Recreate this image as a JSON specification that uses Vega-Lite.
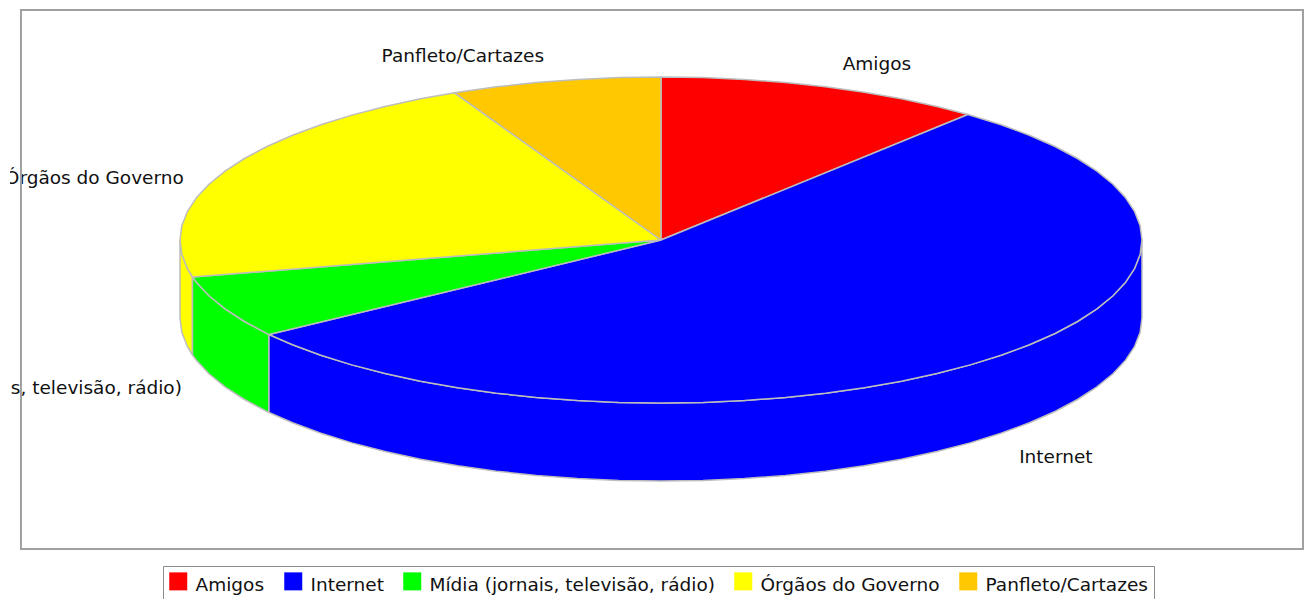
{
"$schema":"https://vega.github.io/schema/vega-lite/v6.json",
"width":1300,"height":555,"autosize":"none",
"padding":{"left":10,"top":0,"right":0,"bottom":44},
"background":"white",
"view":{"stroke":null},
"config":{"font":"DejaVu Sans"},
"datasets":{
"paredes":[
{"s":"Órgãos do Governo","i":0,"u":-1,"v":0},{"s":"Órgãos do Governo","i":1,"u":-0.9962,"v":-0.0872},{"s":"Órgãos do Governo","i":2,"u":-0.9848,"v":-0.1736},{"s":"Órgãos do Governo","i":3,"u":-0.974,"v":-0.227},{"s":"Órgãos do Governo","i":4,"u":-0.974,"v":-0.7055},{"s":"Órgãos do Governo","i":5,"u":-0.9848,"v":-0.6521},{"s":"Órgãos do Governo","i":6,"u":-0.9962,"v":-0.5657},{"s":"Órgãos do Governo","i":7,"u":-1,"v":-0.4785},{"s":"Órgãos do Governo","i":8,"u":-1,"v":0},
{"s":"Mídia (jornais, televisão, rádio)","i":0,"u":-0.974,"v":-0.227},{"s":"Mídia (jornais, televisão, rádio)","i":1,"u":-0.9659,"v":-0.2588},{"s":"Mídia (jornais, televisão, rádio)","i":2,"u":-0.9397,"v":-0.342},{"s":"Mídia (jornais, televisão, rádio)","i":3,"u":-0.9063,"v":-0.4226},{"s":"Mídia (jornais, televisão, rádio)","i":4,"u":-0.866,"v":-0.5},{"s":"Mídia (jornais, televisão, rádio)","i":5,"u":-0.815,"v":-0.58},{"s":"Mídia (jornais, televisão, rádio)","i":6,"u":-0.815,"v":-1.0585},{"s":"Mídia (jornais, televisão, rádio)","i":7,"u":-0.866,"v":-0.9785},{"s":"Mídia (jornais, televisão, rádio)","i":8,"u":-0.9063,"v":-0.9011},{"s":"Mídia (jornais, televisão, rádio)","i":9,"u":-0.9397,"v":-0.8205},{"s":"Mídia (jornais, televisão, rádio)","i":10,"u":-0.9659,"v":-0.7373},{"s":"Mídia (jornais, televisão, rádio)","i":11,"u":-0.974,"v":-0.7055},{"s":"Mídia (jornais, televisão, rádio)","i":12,"u":-0.974,"v":-0.227},
{"s":"Internet","i":0,"u":-0.815,"v":-0.58},{"s":"Internet","i":1,"u":-0.766,"v":-0.6428},{"s":"Internet","i":2,"u":-0.7071,"v":-0.7071},{"s":"Internet","i":3,"u":-0.6428,"v":-0.766},{"s":"Internet","i":4,"u":-0.5736,"v":-0.8192},{"s":"Internet","i":5,"u":-0.5,"v":-0.866},{"s":"Internet","i":6,"u":-0.4226,"v":-0.9063},{"s":"Internet","i":7,"u":-0.342,"v":-0.9397},{"s":"Internet","i":8,"u":-0.2588,"v":-0.9659},{"s":"Internet","i":9,"u":-0.1736,"v":-0.9848},{"s":"Internet","i":10,"u":-0.0872,"v":-0.9962},{"s":"Internet","i":11,"u":0,"v":-1},{"s":"Internet","i":12,"u":0.0872,"v":-0.9962},{"s":"Internet","i":13,"u":0.1736,"v":-0.9848},{"s":"Internet","i":14,"u":0.2588,"v":-0.9659},{"s":"Internet","i":15,"u":0.342,"v":-0.9397},{"s":"Internet","i":16,"u":0.4226,"v":-0.9063},{"s":"Internet","i":17,"u":0.5,"v":-0.866},{"s":"Internet","i":18,"u":0.5736,"v":-0.8192},{"s":"Internet","i":19,"u":0.6428,"v":-0.766},{"s":"Internet","i":20,"u":0.7071,"v":-0.7071},{"s":"Internet","i":21,"u":0.766,"v":-0.6428},{"s":"Internet","i":22,"u":0.8192,"v":-0.5736},{"s":"Internet","i":23,"u":0.866,"v":-0.5},{"s":"Internet","i":24,"u":0.9063,"v":-0.4226},{"s":"Internet","i":25,"u":0.9397,"v":-0.342},{"s":"Internet","i":26,"u":0.9659,"v":-0.2588},{"s":"Internet","i":27,"u":0.9848,"v":-0.1736},{"s":"Internet","i":28,"u":0.9962,"v":-0.0872},{"s":"Internet","i":29,"u":1,"v":0},
{"s":"Internet","i":30,"u":1,"v":-0.4785},{"s":"Internet","i":31,"u":0.9962,"v":-0.5657},{"s":"Internet","i":32,"u":0.9848,"v":-0.6521},{"s":"Internet","i":33,"u":0.9659,"v":-0.7373},{"s":"Internet","i":34,"u":0.9397,"v":-0.8205},{"s":"Internet","i":35,"u":0.9063,"v":-0.9011},{"s":"Internet","i":36,"u":0.866,"v":-0.9785},{"s":"Internet","i":37,"u":0.8192,"v":-1.0521},{"s":"Internet","i":38,"u":0.766,"v":-1.1213},{"s":"Internet","i":39,"u":0.7071,"v":-1.1856},{"s":"Internet","i":40,"u":0.6428,"v":-1.2445},{"s":"Internet","i":41,"u":0.5736,"v":-1.2977},{"s":"Internet","i":42,"u":0.5,"v":-1.3445},{"s":"Internet","i":43,"u":0.4226,"v":-1.3848},{"s":"Internet","i":44,"u":0.342,"v":-1.4182},{"s":"Internet","i":45,"u":0.2588,"v":-1.4444},{"s":"Internet","i":46,"u":0.1736,"v":-1.4633},{"s":"Internet","i":47,"u":0.0872,"v":-1.4747},{"s":"Internet","i":48,"u":0,"v":-1.4785},{"s":"Internet","i":49,"u":-0.0872,"v":-1.4747},{"s":"Internet","i":50,"u":-0.1736,"v":-1.4633},{"s":"Internet","i":51,"u":-0.2588,"v":-1.4444},{"s":"Internet","i":52,"u":-0.342,"v":-1.4182},{"s":"Internet","i":53,"u":-0.4226,"v":-1.3848},{"s":"Internet","i":54,"u":-0.5,"v":-1.3445},{"s":"Internet","i":55,"u":-0.5736,"v":-1.2977},{"s":"Internet","i":56,"u":-0.6428,"v":-1.2445},{"s":"Internet","i":57,"u":-0.7071,"v":-1.1856},{"s":"Internet","i":58,"u":-0.766,"v":-1.1213},{"s":"Internet","i":59,"u":-0.815,"v":-1.0585},{"s":"Internet","i":60,"u":-0.815,"v":-0.58}
],
"tampo":[
{"s":"Amigos","i":0,"u":0,"v":0},{"s":"Amigos","i":1,"u":0,"v":1},{"s":"Amigos","i":2,"u":0.0872,"v":0.9962},{"s":"Amigos","i":3,"u":0.1736,"v":0.9848},{"s":"Amigos","i":4,"u":0.2588,"v":0.9659},{"s":"Amigos","i":5,"u":0.342,"v":0.9397},{"s":"Amigos","i":6,"u":0.4226,"v":0.9063},{"s":"Amigos","i":7,"u":0.5,"v":0.866},{"s":"Amigos","i":8,"u":0.5736,"v":0.8192},{"s":"Amigos","i":9,"u":0.638,"v":0.77},{"s":"Amigos","i":10,"u":0,"v":0},
{"s":"Internet","i":0,"u":0,"v":0},{"s":"Internet","i":1,"u":0.638,"v":0.77},{"s":"Internet","i":2,"u":0.7071,"v":0.7071},{"s":"Internet","i":3,"u":0.766,"v":0.6428},{"s":"Internet","i":4,"u":0.8192,"v":0.5736},{"s":"Internet","i":5,"u":0.866,"v":0.5},{"s":"Internet","i":6,"u":0.9063,"v":0.4226},{"s":"Internet","i":7,"u":0.9397,"v":0.342},{"s":"Internet","i":8,"u":0.9659,"v":0.2588},{"s":"Internet","i":9,"u":0.9848,"v":0.1736},{"s":"Internet","i":10,"u":0.9962,"v":0.0872},{"s":"Internet","i":11,"u":1,"v":0},{"s":"Internet","i":12,"u":0.9962,"v":-0.0872},{"s":"Internet","i":13,"u":0.9848,"v":-0.1736},{"s":"Internet","i":14,"u":0.9659,"v":-0.2588},{"s":"Internet","i":15,"u":0.9397,"v":-0.342},{"s":"Internet","i":16,"u":0.9063,"v":-0.4226},{"s":"Internet","i":17,"u":0.866,"v":-0.5},{"s":"Internet","i":18,"u":0.8192,"v":-0.5736},{"s":"Internet","i":19,"u":0.766,"v":-0.6428},{"s":"Internet","i":20,"u":0.7071,"v":-0.7071},{"s":"Internet","i":21,"u":0.6428,"v":-0.766},{"s":"Internet","i":22,"u":0.5736,"v":-0.8192},{"s":"Internet","i":23,"u":0.5,"v":-0.866},{"s":"Internet","i":24,"u":0.4226,"v":-0.9063},{"s":"Internet","i":25,"u":0.342,"v":-0.9397},{"s":"Internet","i":26,"u":0.2588,"v":-0.9659},{"s":"Internet","i":27,"u":0.1736,"v":-0.9848},{"s":"Internet","i":28,"u":0.0872,"v":-0.9962},{"s":"Internet","i":29,"u":0,"v":-1},{"s":"Internet","i":30,"u":-0.0872,"v":-0.9962},{"s":"Internet","i":31,"u":-0.1736,"v":-0.9848},{"s":"Internet","i":32,"u":-0.2588,"v":-0.9659},{"s":"Internet","i":33,"u":-0.342,"v":-0.9397},{"s":"Internet","i":34,"u":-0.4226,"v":-0.9063},{"s":"Internet","i":35,"u":-0.5,"v":-0.866},{"s":"Internet","i":36,"u":-0.5736,"v":-0.8192},{"s":"Internet","i":37,"u":-0.6428,"v":-0.766},{"s":"Internet","i":38,"u":-0.7071,"v":-0.7071},{"s":"Internet","i":39,"u":-0.766,"v":-0.6428},{"s":"Internet","i":40,"u":-0.815,"v":-0.58},{"s":"Internet","i":41,"u":0,"v":0},
{"s":"Mídia (jornais, televisão, rádio)","i":0,"u":0,"v":0},{"s":"Mídia (jornais, televisão, rádio)","i":1,"u":-0.815,"v":-0.58},{"s":"Mídia (jornais, televisão, rádio)","i":2,"u":-0.866,"v":-0.5},{"s":"Mídia (jornais, televisão, rádio)","i":3,"u":-0.9063,"v":-0.4226},{"s":"Mídia (jornais, televisão, rádio)","i":4,"u":-0.9397,"v":-0.342},{"s":"Mídia (jornais, televisão, rádio)","i":5,"u":-0.9659,"v":-0.2588},{"s":"Mídia (jornais, televisão, rádio)","i":6,"u":-0.974,"v":-0.227},{"s":"Mídia (jornais, televisão, rádio)","i":7,"u":0,"v":0},
{"s":"Órgãos do Governo","i":0,"u":0,"v":0},{"s":"Órgãos do Governo","i":1,"u":-0.974,"v":-0.227},{"s":"Órgãos do Governo","i":2,"u":-0.9848,"v":-0.1736},{"s":"Órgãos do Governo","i":3,"u":-0.9962,"v":-0.0872},{"s":"Órgãos do Governo","i":4,"u":-1,"v":0},{"s":"Órgãos do Governo","i":5,"u":-0.9962,"v":0.0872},{"s":"Órgãos do Governo","i":6,"u":-0.9848,"v":0.1736},{"s":"Órgãos do Governo","i":7,"u":-0.9659,"v":0.2588},{"s":"Órgãos do Governo","i":8,"u":-0.9397,"v":0.342},{"s":"Órgãos do Governo","i":9,"u":-0.9063,"v":0.4226},{"s":"Órgãos do Governo","i":10,"u":-0.866,"v":0.5},{"s":"Órgãos do Governo","i":11,"u":-0.8192,"v":0.5736},{"s":"Órgãos do Governo","i":12,"u":-0.766,"v":0.6428},{"s":"Órgãos do Governo","i":13,"u":-0.7071,"v":0.7071},{"s":"Órgãos do Governo","i":14,"u":-0.6428,"v":0.766},{"s":"Órgãos do Governo","i":15,"u":-0.5736,"v":0.8192},{"s":"Órgãos do Governo","i":16,"u":-0.5,"v":0.866},{"s":"Órgãos do Governo","i":17,"u":-0.429,"v":0.903},{"s":"Órgãos do Governo","i":18,"u":0,"v":0},
{"s":"Panfleto/Cartazes","i":0,"u":0,"v":0},{"s":"Panfleto/Cartazes","i":1,"u":-0.429,"v":0.903},{"s":"Panfleto/Cartazes","i":2,"u":-0.342,"v":0.9397},{"s":"Panfleto/Cartazes","i":3,"u":-0.2588,"v":0.9659},{"s":"Panfleto/Cartazes","i":4,"u":-0.1736,"v":0.9848},{"s":"Panfleto/Cartazes","i":5,"u":-0.0872,"v":0.9962},{"s":"Panfleto/Cartazes","i":6,"u":0,"v":1},{"s":"Panfleto/Cartazes","i":7,"u":0,"v":0}
],
"rotulos":[
{"s":"Amigos","u":0.449,"v":1.08,"a":"center"},
{"s":"Panfleto/Cartazes","u":-0.412,"v":1.129,"a":"center"},
{"s":"Órgãos do Governo","u":-0.992,"v":0.381,"a":"right"},
{"s":"Mídia (jornais, televisão, rádio)","u":-0.996,"v":-0.908,"a":"right"},
{"s":"Internet","u":0.821,"v":-1.331,"a":"center"}
],
"moldura":[{"u0":-1.3306,"u1":1.3347,"v0":1.411,"v1":-1.896}]
},
"layer":[
{"data":{"name":"paredes"},
 "mark":{"type":"line","filled":true,"stroke":"#bdbdbd","strokeWidth":1.5,"strokeJoin":"round"},
 "encoding":{
  "x":{"field":"u","type":"quantitative","axis":null,"scale":{"domain":[-1.3534,1.3493],"nice":false,"zero":false}},
  "y":{"field":"v","type":"quantitative","axis":null,"scale":{"domain":[-1.9325,1.4724],"nice":false,"zero":false}},
  "order":{"field":"i","type":"quantitative"},
  "color":{"field":"s","type":"nominal","scale":{"domain":["Amigos","Internet","Mídia (jornais, televisão, rádio)","Órgãos do Governo","Panfleto/Cartazes"],"range":["#ff0000","#0000ff","#00ff00","#ffff00","#ffc800"]},
   "legend":{"title":null,"orient":"none","legendX":153,"legendY":566,"columns":5,"direction":"horizontal","symbolType":"square","symbolSize":324,"symbolStrokeWidth":0,"labelFontSize":18.5,"labelColor":"#111111","labelLimit":500,"labelOffset":8,"columnPadding":19,"padding":6,"strokeColor":"#8c8c8c","fillColor":"white","encoding":{"labels":{"dy":{"value":4}}}}}
 }},
{"data":{"name":"tampo"},
 "mark":{"type":"line","filled":true,"stroke":"#bdbdbd","strokeWidth":1.5,"strokeJoin":"round"},
 "encoding":{
  "x":{"field":"u","type":"quantitative"},
  "y":{"field":"v","type":"quantitative"},
  "order":{"field":"i","type":"quantitative"},
  "color":{"field":"s","type":"nominal"}
 }},
{"data":{"name":"rotulos"},
 "transform":[{"filter":"datum.a == 'center'"}],
 "mark":{"type":"text","clip":true,"align":"center","baseline":"middle","fontSize":18.5,"color":"#111111"},
 "encoding":{"x":{"field":"u","type":"quantitative"},"y":{"field":"v","type":"quantitative"},"text":{"field":"s"}}},
{"data":{"name":"rotulos"},
 "transform":[{"filter":"datum.a == 'right'"}],
 "mark":{"type":"text","clip":true,"align":"right","baseline":"middle","fontSize":18.5,"color":"#111111"},
 "encoding":{"x":{"field":"u","type":"quantitative"},"y":{"field":"v","type":"quantitative"},"text":{"field":"s"}}},
{"data":{"name":"moldura"},
 "mark":{"type":"rect","fill":null,"stroke":"#a0a0a0","strokeWidth":2},
 "encoding":{"x":{"field":"u0","type":"quantitative"},"x2":{"field":"u1"},"y":{"field":"v0","type":"quantitative"},"y2":{"field":"v1"}}}
],
"resolve":{"scale":{"color":"shared"}}
}
